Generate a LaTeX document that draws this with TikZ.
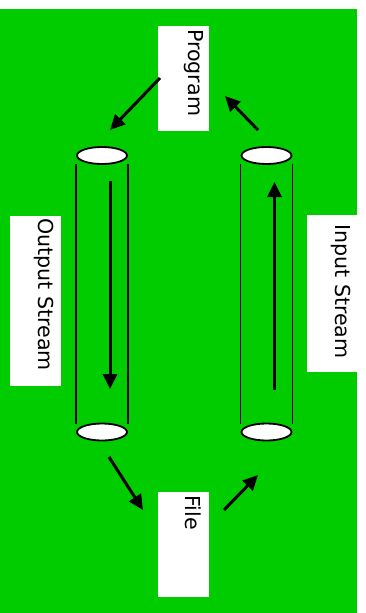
\documentclass[tikz,border=0pt]{standalone}
\usepackage{fontspec}
\setmainfont{DejaVu Sans}
\usetikzlibrary{arrows.meta,shapes.geometric}
\definecolor{bggreen}{RGB}{0,204,0}
\begin{document}
\begin{tikzpicture}[x=1pt,y=-1pt,
  labelbox/.style={rectangle,fill=white,draw=none,inner sep=0pt},
  labeltext/.style={rotate=-90,anchor=base west,inner sep=0pt,font=\fontsize{20.6}{24}\selectfont},
  cylend/.style={ellipse,draw=black,line width=1.8pt,fill=white,minimum width=50pt,minimum height=17pt,inner sep=0pt},
  cylside/.style={line width=1.5pt},
  flow/.style={line width=3pt,-{Triangle[length=15pt,width=14pt]}}]
\useasboundingbox (0,0) rectangle (365,613);
\fill[bggreen] (0,9) rectangle (357,613);
% label boxes
\node[labelbox,minimum width=51pt,minimum height=105pt] (prog) at (183.5,78.5) {};
\node[labelbox,minimum width=51pt,minimum height=170pt] (out) at (35.5,301) {};
\node[labelbox,minimum width=50pt,minimum height=157pt] (in) at (332,293.5) {};
\node[labelbox,minimum width=51pt,minimum height=105pt] (file) at (183.5,544.5) {};
\node[labeltext] (progt) at (188,29) {Program};
\node[labeltext] (outt) at (38,218) {Output Stream};
\node[labeltext] (int) at (335,224) {Input Stream};
\node[labeltext] (filet) at (185,495) {File};
% cylinders
\node[cylend] (ltop) at (102,155.5) {};
\node[cylend] (lbot) at (102,432) {};
\node[cylend] (rtop) at (266.5,155.5) {};
\node[cylend] (rbot) at (266.5,432) {};
\draw[cylside] ([yshift=-8.5pt]ltop.west) -- ([yshift=8.5pt]lbot.west);
\draw[cylside] ([yshift=-8.5pt]ltop.east) -- ([yshift=8.5pt]lbot.east);
\draw[cylside] ([yshift=-8.5pt]rtop.west) -- ([yshift=8.5pt]rbot.west);
\draw[cylside] ([yshift=-8.5pt]rtop.east) -- ([yshift=8.5pt]rbot.east);
% arrow end points
\coordinate (a1s) at (160,78);   \coordinate (a1e) at (110,130);
\coordinate (a2s) at (258,130);  \coordinate (a2e) at (225,96);
\coordinate (a3s) at (109,457);  \coordinate (a3e) at (143,510);
\coordinate (a4s) at (224,510);  \coordinate (a4e) at (258,475);
\coordinate (ls) at (110,181);   \coordinate (le) at (110,389);
\coordinate (rs) at (274.5,390); \coordinate (re) at (274.5,182);
\draw[flow] (a1s) -- (a1e);
\draw[flow] (a2s) -- (a2e);
\draw[flow] (a3s) -- (a3e);
\draw[flow] (a4s) -- (a4e);
\draw[flow] (ls) -- (le);
\draw[flow] (rs) -- (re);
\end{tikzpicture}
\end{document}
